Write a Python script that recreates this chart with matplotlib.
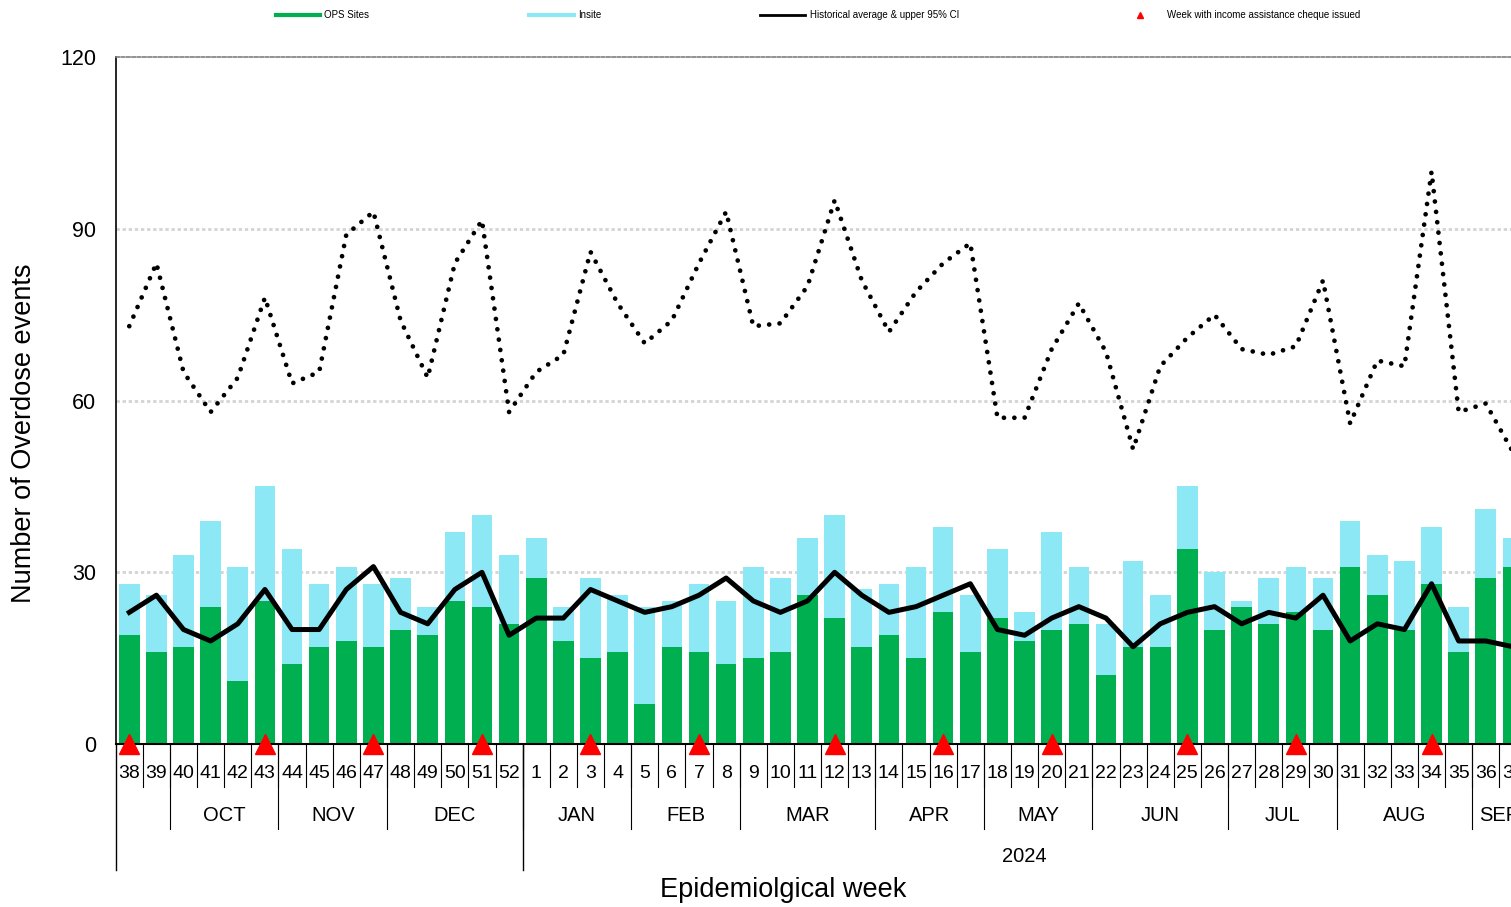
import matplotlib
matplotlib.use('Agg')
import matplotlib.pyplot as plt
import matplotlib.transforms as mtransforms
from matplotlib.lines import Line2D

# Epidemiological weeks shown (2023 wk 38 -> 2024 wk 37)
week_labels = ['38', '39', '40', '41', '42', '43', '44', '45', '46', '47', '48', '49', '50', '51', '52',
               '1', '2', '3', '4', '5', '6', '7', '8', '9', '10', '11', '12', '13', '14', '15', '16', '17',
               '18', '19', '20', '21', '22', '23', '24', '25', '26', '27', '28', '29', '30', '31', '32', '33',
               '34', '35', '36', '37']

ops_sites = [19, 16, 17, 24, 11, 25, 14, 17, 18, 17, 20, 19, 25, 24, 21,
             29, 18, 15, 16, 7, 17, 16, 14, 15, 16, 26, 22, 17, 19, 15, 23, 16,
             22, 18, 20, 21, 12, 17, 17, 34, 20, 24, 21, 23, 20, 31, 26, 20,
             28, 16, 29, 31]

insite = [9, 10, 16, 15, 20, 20, 20, 11, 13, 11, 9, 5, 12, 16, 12,
          7, 6, 14, 10, 17, 8, 12, 11, 16, 13, 10, 18, 10, 9, 16, 15, 10,
          12, 5, 17, 10, 9, 15, 9, 11, 10, 1, 8, 8, 9, 8, 7, 12,
          10, 8, 12, 5]

hist_avg = [23, 26, 20, 18, 21, 27, 20, 20, 27, 31, 23, 21, 27, 30, 19,
            22, 22, 27, 25, 23, 24, 26, 29, 25, 23, 25, 30, 26, 23, 24, 26, 28,
            20, 19, 22, 24, 22, 17, 21, 23, 24, 21, 23, 22, 26, 18, 21, 20,
            28, 18, 18, 17]

upper_ci = [73, 84, 65, 58, 64, 78, 63, 65, 89, 93, 74, 64, 84, 91.5, 58,
            65, 68, 86, 77, 70, 74, 84, 93, 73, 73.5, 80, 95, 81, 72, 79, 84, 87.5,
            57, 57, 69, 77, 68.5, 51.5, 66, 71, 75, 69, 68, 69.5, 81, 56, 67, 66,
            100, 58, 59.5, 51]

cheque_weeks = ['38', '43', '47', '51', '3', '7', '12', '16', '20', '25', '29', '34']

month_labels = ['', 'OCT', 'NOV', 'DEC', 'JAN', 'FEB', 'MAR', 'APR', 'MAY', 'JUN', 'JUL', 'AUG', 'SEP']
month_weeks = [2, 4, 4, 5, 4, 4, 5, 4, 4, 5, 4, 5, 2]

year_labels = ['', '2024']
year_weeks = [15, 37]

GREEN = '#00B050'
CYAN = '#8DE8F6'
plt.rcParams['font.family'] = ['Liberation Sans', 'DejaVu Sans']

W, H = 1511, 907
fig = plt.figure(figsize=(W / 100, H / 100), dpi=100)
ax = fig.add_axes([115.7 / W, 163 / H, 1410.8 / W, 686.8 / H])

x = list(range(len(week_labels)))
ax.bar(x, ops_sites, width=0.76, color=GREEN, zorder=2)
ax.bar(x, insite, width=0.76, bottom=ops_sites, color=CYAN, zorder=2)
ax.plot(x, upper_ci, color='black', lw=3.4, linestyle=(0, (0.01, 2.2)),
        dash_capstyle='round', zorder=3)
ax.plot(x, hist_avg, color='black', lw=3.6, zorder=4)

cheque_x = [week_labels.index(w) for w in cheque_weeks]
ax.plot(cheque_x, [0] * len(cheque_x), linestyle='none', marker='^', color='#FF0000',
        ms=14.5, clip_on=False, zorder=6)

ax.set_xlim(-0.5, len(x) - 0.5)
ax.set_ylim(0, 120)
ax.set_yticks([0, 30, 60, 90, 120])
ax.set_xticks([])
ax.tick_params(axis='y', length=0, pad=14, labelsize=15.5)
ax.spines['right'].set_visible(False)
ax.spines['top'].set(linestyle=(0, (2, 1.2)), color='#7F7F7F', lw=1.2)
ax.spines['left'].set(color='black', lw=1.2)
ax.spines['bottom'].set(color='black', lw=1.5)
ax.grid(axis='y', color='#D4D4D4', lw=2, linestyle=(0, (1.2, 1.0)))
ax.set_axisbelow(True)
yt = ax.yaxis.get_major_ticks()
yt[0].gridline.set_visible(False)
yt[-1].gridline.set_visible(False)

# multi-level category axis: weeks / months / year
trans = mtransforms.blended_transform_factory(ax.transData, ax.transAxes)
week_bot, month_bot, year_bot = -0.0626, -0.1238, -0.1835

for i in range(len(x) - 1):
    ax.plot([i + 0.5, i + 0.5], [0, week_bot], transform=trans, color='black', lw=0.8, clip_on=False)
for i, w in enumerate(week_labels):
    ax.text(i, -0.043, w, transform=trans, ha='center', va='center', fontsize=14)

start = 0
for lab, n in zip(month_labels, month_weeks):
    if start > 0:
        ax.plot([start - 0.5, start - 0.5], [0, month_bot], transform=trans, color='black', lw=0.8, clip_on=False)
    ax.text(start + n / 2 - 0.5, -0.1034, lab, transform=trans, ha='center', va='center', fontsize=14.5)
    start += n

start = 0
for lab, n in zip(year_labels, year_weeks):
    ax.plot([start - 0.5, start - 0.5], [0, year_bot], transform=trans, color='black', lw=1.0, clip_on=False)
    ax.text(start + n / 2 - 0.5, -0.1645, lab, transform=trans, ha='center', va='center', fontsize=14.5)
    start += n

fig.text(24 / W, 1 - 433.5 / H, 'Number of Overdose events', rotation=90, ha='center', va='center', fontsize=19.5)
fig.text(783 / W, 1 - 890 / H, 'Epidemiolgical week', ha='center', va='center', fontsize=19.5)

# legend across the top
ly = 1 - 15 / H
fig.add_artist(Line2D([276 / W, 320 / W], [ly, ly], color=GREEN, lw=3))
fig.text(324 / W, ly, 'OPS Sites', va='center', fontsize=7)
fig.add_artist(Line2D([529 / W, 574 / W], [ly, ly], color=CYAN, lw=3))
fig.text(578 / W, ly, 'Insite', va='center', fontsize=7)
fig.add_artist(Line2D([760 / W, 805 / W], [ly, ly], color='black', lw=2))
fig.text(810 / W, ly, 'Historical average & upper 95% CI', va='center', fontsize=7)
fig.add_artist(Line2D([1140 / W], [ly], marker='^', color='#FF0000', ms=5, linestyle='none'))
fig.text(1167 / W, ly, 'Week with income assistance cheque issued', va='center', fontsize=7)

fig.savefig('out.png', dpi=100)
